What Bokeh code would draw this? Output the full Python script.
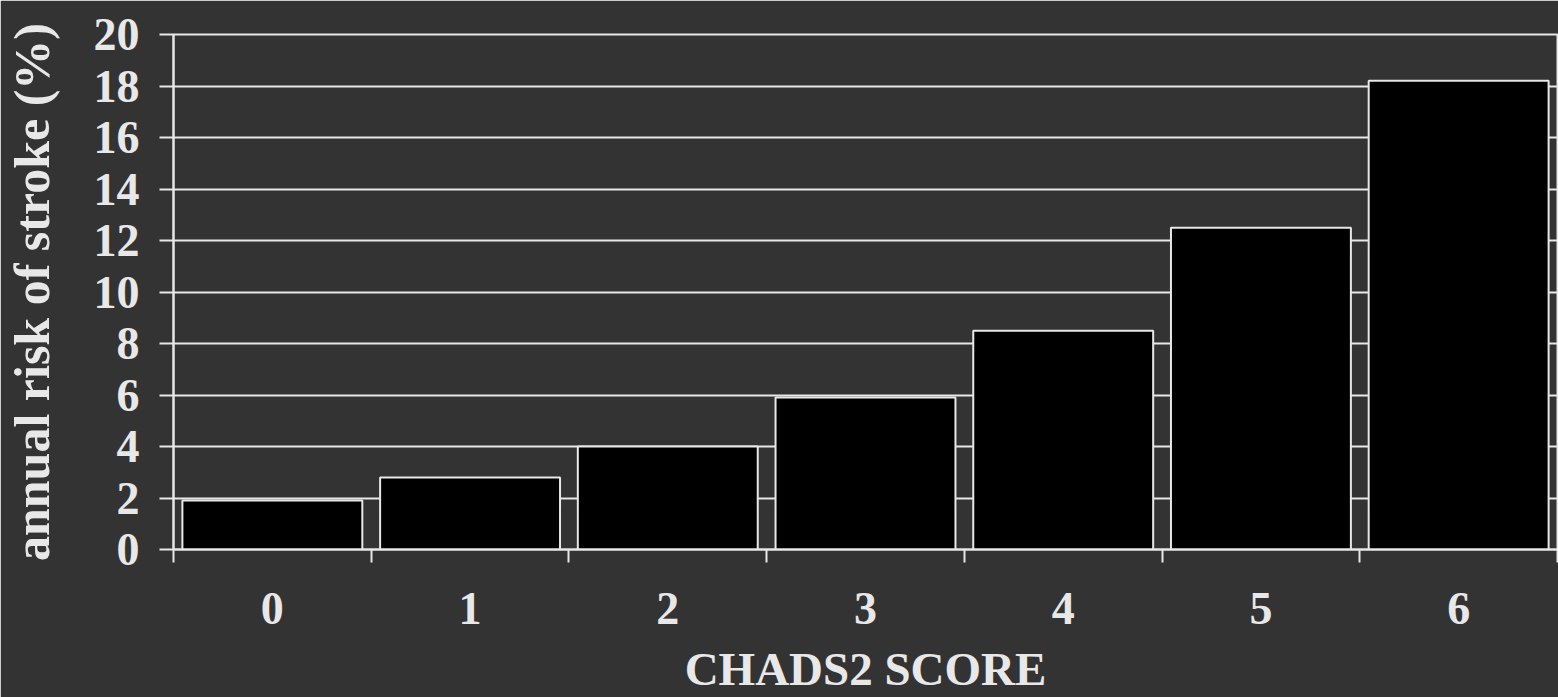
from bokeh.plotting import figure
from bokeh.models import FixedTicker, Range1d
from bokeh.embed import file_html
from bokeh.resources import INLINE

scores = [0, 1, 2, 3, 4, 5, 6]
risk = [1.9, 2.8, 4.0, 5.9, 8.5, 12.5, 18.2]
y_ticks = [0, 2, 4, 6, 8, 10, 12, 14, 16, 18, 20]
boundaries = [-0.5, 0.5, 1.5, 2.5, 3.5, 4.5, 5.5, 6.5]
x_title = "CHADS2 SCORE"
y_title = "annual risk of stroke (%)"

BG = "#333333"
FG = "#e8e8e8"
FONT = "Liberation Serif"

p = figure(width=1558, height=697, output_backend="svg", toolbar_location=None,
           x_range=Range1d(-0.5, 6.5), y_range=Range1d(0, 20),
           min_border_left=172, min_border_right=1, min_border_top=34, min_border_bottom=148)
p.background_fill_color = BG
p.border_fill_color = BG
p.outline_line_color = FG
p.outline_line_width = 2

p.vbar(x=scores, top=risk, width=0.91, bottom=0, fill_color="black",
       line_color=FG, line_width=2)

p.xgrid.visible = False
p.ygrid.ticker = FixedTicker(ticks=y_ticks)
p.ygrid.grid_line_color = FG
p.ygrid.grid_line_width = 2

p.xaxis.ticker = FixedTicker(ticks=scores, minor_ticks=boundaries)
p.xaxis.major_tick_out = 0
p.xaxis.major_tick_in = 0
p.xaxis.minor_tick_out = 13
p.xaxis.minor_tick_in = 0
p.xaxis.minor_tick_line_color = FG
p.xaxis.minor_tick_line_width = 2
p.xaxis.major_label_standoff = 30
p.xaxis.axis_label = x_title
p.xaxis.axis_label_standoff = 16

p.yaxis.ticker = FixedTicker(ticks=y_ticks)
p.yaxis.major_tick_out = 14
p.yaxis.major_tick_in = 0
p.yaxis.minor_tick_line_color = None
p.yaxis.major_label_standoff = 20
p.yaxis.axis_label = y_title
p.yaxis.axis_label_standoff = 31

for ax in (p.xaxis, p.yaxis):
    ax.axis_line_color = FG
    ax.axis_line_width = 2
    ax.major_tick_line_color = FG
    ax.major_tick_line_width = 2
    ax.major_label_text_color = FG
    ax.major_label_text_font = FONT
    ax.major_label_text_font_style = "bold"
    ax.major_label_text_font_size = "46px"
    ax.axis_label_text_color = FG
    ax.axis_label_text_font = FONT
    ax.axis_label_text_font_style = "bold"

p.xaxis.axis_label_text_font_size = "47px"
p.yaxis.axis_label_text_font_size = "50px"

open("out.html", "w").write(file_html(p, INLINE))
